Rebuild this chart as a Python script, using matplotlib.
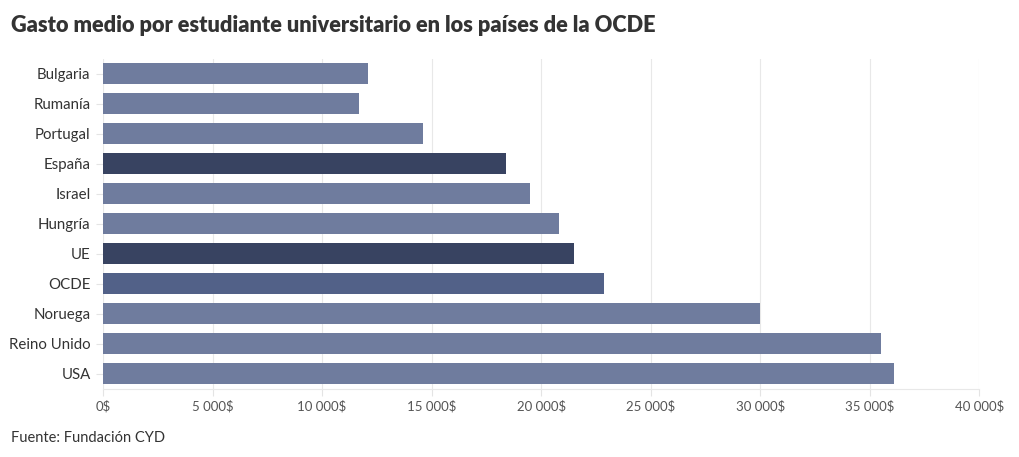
import matplotlib
matplotlib.use('Agg')
import matplotlib.pyplot as plt
from matplotlib.ticker import FuncFormatter

plt.rcParams['font.family'] = ['Lato', 'DejaVu Sans']

# --- Data ---
paises = ['Bulgaria', 'Rumanía', 'Portugal', 'España', 'Israel', 'Hungría',
          'UE', 'OCDE', 'Noruega', 'Reino Unido', 'USA']
gasto = [12100, 11700, 14600, 18400, 19500, 20800,
         21500, 22850, 30000, 35500, 36100]
colores = ['#6f7c9e', '#6f7c9e', '#6f7c9e', '#384361', '#6f7c9e', '#6f7c9e',
           '#384361', '#526188', '#6f7c9e', '#6f7c9e', '#6f7c9e']
xticks = [0, 5000, 10000, 15000, 20000, 25000, 30000, 35000, 40000]

# --- Plot ---
fig = plt.figure(figsize=(10.2, 4.57), dpi=100)
ax = fig.add_axes([0.101, 0.149, 0.859, 0.722])

ax.barh(range(len(paises)), gasto, height=0.7, color=colores, zorder=2)
ax.set_ylim(len(paises) - 0.5, -0.5)
ax.set_xlim(0, 40000)

ax.set_yticks(range(len(paises)))
ax.set_yticklabels(paises, fontsize=10.8, color='#333333')
ax.set_xticks(xticks)
ax.xaxis.set_major_formatter(FuncFormatter(
    lambda v, p: '{:,.0f}$'.format(v).replace(',', ' ')))
ax.tick_params(axis='x', labelsize=9.5, labelcolor='#555555', length=5,
               color='#e4e4e4', pad=3)
ax.tick_params(axis='y', length=5, color='#e4e4e4', pad=4)

ax.grid(axis='x', color='#e8e8e8', linewidth=0.8, zorder=0)
for s in ['top', 'right', 'left']:
    ax.spines[s].set_visible(False)
ax.spines['bottom'].set_color('#e8e8e8')

fig.text(0.011, 0.945, 'Gasto medio por estudiante universitario en los países de la OCDE',
         fontsize=15.7, fontweight='heavy', color='#333333', va='center')
fig.text(0.011, 0.042, 'Fuente: Fundación CYD', fontsize=10.5,
         color='#333333', va='center')

plt.savefig('out.png', dpi=100)
